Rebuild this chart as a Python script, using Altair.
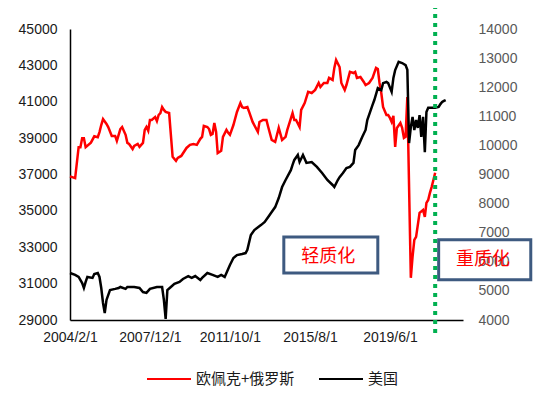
import altair as alt
import pandas as pd

series_names = ["欧佩克+俄罗斯", "美国"]
series_colors = ["#FF0000", "#000000"]

# OPEC+Russia crude output (left axis), monthly points
red_dates = [
    "2004-02", "2004-05", "2004-07", "2004-08", "2004-09", "2004-10", "2004-11",
    "2005-02", "2005-04", "2005-06", "2005-07", "2005-08", "2005-09", "2005-11", "2005-12",
    "2006-02", "2006-04", "2006-05", "2006-07", "2006-08", "2006-10", "2006-11", "2006-12",
    "2007-02", "2007-03", "2007-05", "2007-06", "2007-07", "2007-08", "2007-09", "2007-10", "2007-11", "2007-12",
    "2008-01", "2008-03", "2008-04", "2008-05", "2008-06", "2008-07", "2008-08", "2008-09", "2008-11",
    "2009-01", "2009-03", "2009-04", "2009-06", "2009-09", "2009-11",
    "2010-01", "2010-03", "2010-05", "2010-06", "2010-07", "2010-09", "2010-10", "2010-11", "2010-12",
    "2011-01", "2011-02", "2011-03", "2011-05", "2011-06", "2011-08", "2011-09", "2011-10", "2011-12",
    "2012-02", "2012-04", "2012-05", "2012-06", "2012-08", "2012-09", "2012-11",
    "2013-02", "2013-03", "2013-05", "2013-07", "2013-08", "2013-10", "2013-12",
    "2014-02", "2014-04", "2014-06", "2014-07", "2014-10", "2014-11", "2014-12",
    "2015-02", "2015-03", "2015-05", "2015-07", "2015-09", "2015-11",
    "2016-01", "2016-02", "2016-04", "2016-06", "2016-07", "2016-09", "2016-10", "2016-11",
    "2017-01", "2017-02", "2017-04", "2017-05", "2017-07", "2017-09", "2017-10", "2017-11",
    "2018-01", "2018-03", "2018-04", "2018-06", "2018-08", "2018-10", "2018-11", "2018-12",
    "2019-01", "2019-02", "2019-04", "2019-05", "2019-06", "2019-07", "2019-08", "2019-09", "2019-10", "2019-12",
    "2020-01", "2020-02", "2020-03", "2020-04", "2020-06", "2020-07", "2020-08", "2020-09", "2020-11",
    "2021-01", "2021-02", "2021-03", "2021-04", "2021-05", "2021-06", "2021-07", "2021-08",
]
red_values = [
    36900, 36800, 38500, 38500, 39000, 39000, 38500,
    38750, 39100, 39050, 39330, 39720, 40050, 39780, 39610,
    39120, 39120, 38850, 39500, 39610, 39180, 38740, 38680,
    38400, 38570, 38680, 38520, 38630, 38740, 39450, 39610, 39400, 40000,
    40000, 40160, 39940, 40270, 40380, 40710, 40550, 40440, 40380,
    37970, 37750, 37910, 38020, 38460, 38630,
    38680, 38630, 38960, 39070, 39670, 39610, 39500, 39180, 39230,
    39830, 39340, 38180, 38300, 39070, 39450, 39290, 39180, 39720,
    40440, 40930, 40710, 40660, 40710, 40440, 39890,
    39340, 39890, 40000, 40000, 39610, 38900, 38790,
    39560, 38900, 39070, 39450, 40380, 40000, 40000,
    39610, 40550, 40930, 41540, 41480, 41650,
    42030, 41810, 42030, 42030, 42310, 42200, 42860, 43300,
    42910, 42030, 41650, 41920, 42640, 42580, 42640, 42310,
    42360, 42090, 41920, 42030, 42310, 42860, 42800, 42030,
    41480, 40710, 40270, 40270, 40110, 39890, 40220, 38520, 39560, 39830,
    39560, 39010, 39070, 41260, 31320, 32470, 33410, 33570, 34890,
    35050, 34670, 35440, 35600, 35990, 36320, 36700, 37100,
]

# US crude output (right axis)
us_dates = [
    "2004-02", "2004-05", "2004-07", "2004-09", "2004-10", "2004-11", "2004-12",
    "2005-03", "2005-04", "2005-06", "2005-07", "2005-08", "2005-09", "2005-10", "2005-11",
    "2006-01", "2006-04", "2006-06", "2006-07", "2006-10", "2006-11",
    "2007-02", "2007-03", "2007-06", "2007-08", "2007-10", "2007-12",
    "2008-04", "2008-07", "2008-08", "2008-09", "2008-10", "2008-12",
    "2009-02", "2009-05", "2009-07", "2009-10", "2009-12",
    "2010-02", "2010-05", "2010-06", "2010-09", "2010-12",
    "2011-03", "2011-05", "2011-07", "2011-08", "2011-10", "2011-12",
    "2012-02", "2012-05", "2012-07", "2012-08", "2012-10", "2012-12",
    "2013-04", "2013-06", "2013-08", "2013-10", "2013-12",
    "2014-02", "2014-04", "2014-06", "2014-09", "2014-10", "2014-11",
    "2015-01", "2015-02", "2015-04", "2015-06", "2015-09", "2015-12",
    "2016-03", "2016-06", "2016-09", "2016-10", "2016-12",
    "2017-01", "2017-03", "2017-05", "2017-07", "2017-09", "2017-10", "2017-12",
    "2018-02", "2018-04", "2018-05", "2018-08", "2018-09", "2018-11",
    "2019-01", "2019-02", "2019-04", "2019-05", "2019-07", "2019-08", "2019-09", "2019-11",
    "2020-01", "2020-03", "2020-04", "2020-05", "2020-06", "2020-07", "2020-08", "2020-09", "2020-10", "2020-11", "2020-12",
    "2021-01", "2021-02", "2021-03", "2021-04", "2021-05", "2021-06", "2021-08", "2021-10", "2021-11", "2021-12",
    "2022-01", "2022-02",
]
us_values = [
    5616, 5550, 5480, 5270, 5100, 5310, 5480,
    5445, 5580, 5616, 5480, 5100, 4585, 4240, 4690,
    5030, 5070, 5100, 5135, 5070, 5135,
    5135, 5135, 5100, 4960, 4930, 5070,
    5135, 5135, 4690, 4035, 5030, 5135,
    5240, 5310, 5410, 5510, 5445,
    5510, 5375, 5445, 5616, 5550,
    5480, 5550, 5480, 5616, 5890, 6130,
    6230, 6270, 6300, 6410, 6920, 7090,
    7270, 7370, 7540, 7710, 7880,
    8190, 8570, 8810, 9150, 9330, 9500,
    9670, 9430, 9670, 9400, 9430, 9260,
    9050, 8810, 8640, 8570, 8810,
    8910, 9050, 9220, 9260, 9400, 9840, 10010,
    10290, 10530, 10870, 11390, 11560, 11970,
    11900, 12140, 12180, 12140, 11840, 12320, 12590, 12870,
    12830, 12760, 12600, 10080, 10630, 10980, 10530, 10870, 10600, 11040, 10290,
    10980, 9770, 11150, 11290, 11290, 11290, 11290, 11320, 11420, 11490,
    11530, 11560,
]

x_start = "2004-02-01"
x_end = "2022-12-01"
x_ticks = ["2004-02-01", "2007-12-01", "2011-10-01", "2015-08-01", "2019-06-01"]
left_ticks = list(range(29000, 45001, 2000))
right_ticks = list(range(4000, 14001, 1000))
divider_date = "2021-08-01"

# annotation boxes (anchored in date / left-axis units)
box_labels = ["轻质化", "重质化"]
box_x = ["2014-05-01", "2021-10-01"]
box_x2 = ["2018-11-01", "2026-03-01"]
box_y = [33570, 33410]
box_y2 = [31590, 31210]
text_x = ["2016-06-15", "2023-11-15"]
text_y = [32470, 32310]


def dt(s):
    t = pd.Timestamp(s)
    return alt.DateTime(year=t.year, month=t.month, date=t.day)


red_df = pd.DataFrame({"date": pd.to_datetime(red_dates, format="%Y-%m"),
                       "value": red_values, "series": series_names[0]})
us_df = pd.DataFrame({"date": pd.to_datetime(us_dates, format="%Y-%m"),
                      "value": us_values, "series": series_names[1]})
df = pd.concat([red_df, us_df], ignore_index=True)

box_df = pd.DataFrame({
    "label": box_labels,
    "x": pd.to_datetime(box_x), "x2": pd.to_datetime(box_x2),
    "y": box_y, "y2": box_y2,
    "tx": pd.to_datetime(text_x), "ty": text_y,
})
div_df = pd.DataFrame({"date": pd.to_datetime([divider_date])})

LAT = "Liberation Sans"
CJK = "Noto Sans CJK SC"

x_scale = alt.Scale(domain=[dt(x_start), dt(x_end)], nice=False)
x_enc = alt.X(
    "date:T", title=None, scale=x_scale,
    axis=alt.Axis(values=[dt(s) for s in x_ticks], format="%Y/%-m/%-d",
                  labelFlush=False, labelOverlap=False, ticks=False, grid=False,
                  domainColor="#000000", domainWidth=1.5, labelPadding=10,
                  labelFontSize=14, labelFont=LAT, labelColor="#1a1a1a"),
)
left_scale = alt.Scale(domain=[29000, 45000], nice=False, zero=False)
right_scale = alt.Scale(domain=[4000, 14000], nice=False, zero=False)

legend = alt.Legend(orient="none", legendX=76, legendY=327, direction="horizontal",
                    title=None, symbolType="stroke", symbolSize=1936,
                    symbolStrokeWidth=2, labelFontSize=15, labelFont=CJK,
                    labelColor="#1a1a1a", columnPadding=20, labelOffset=4, padding=0)
color_enc = alt.Color("series:N", scale=alt.Scale(domain=series_names, range=series_colors),
                      legend=legend)

red = alt.Chart(df).transform_filter(
    alt.datum.series == series_names[0]
).mark_line(strokeWidth=2.5).encode(
    x=x_enc,
    y=alt.Y("value:Q", title=None, scale=left_scale,
            axis=alt.Axis(values=left_ticks, format="d", ticks=False, grid=False,
                          domainColor="#000000", domainWidth=1.5, labelPadding=13,
                          labelFontSize=14, labelFont=LAT, labelColor="#1a1a1a")),
    color=color_enc,
)

black = alt.Chart(df).transform_filter(
    alt.datum.series == series_names[1]
).mark_line(strokeWidth=2.5).encode(
    x=x_enc,
    y=alt.Y("value:Q", title=None, scale=right_scale,
            axis=alt.Axis(orient="right", values=right_ticks, format="d", ticks=False,
                          grid=False, domain=False, labelPadding=15,
                          labelFontSize=14, labelFont=LAT, labelColor="#595959")),
    color=color_enc,
)

boxes = alt.Chart(box_df).mark_rect(filled=False, stroke="#3E5A80", strokeWidth=3).encode(
    x=alt.X("x:T", scale=x_scale),
    x2="x2:T",
    y=alt.Y("y:Q", scale=left_scale, axis=None),
    y2="y2:Q",
)

texts = alt.Chart(box_df).mark_text(color="#FF0000", fontSize=18, font=CJK).encode(
    x=alt.X("tx:T", scale=x_scale),
    y=alt.Y("ty:Q", scale=left_scale, axis=None),
    text="label:N",
)

divider = alt.Chart(div_df).mark_rule(color="#00B050", strokeWidth=4, strokeDash=[4, 5]).encode(
    x=alt.X("date:T", scale=x_scale),
    y=alt.value(-24),
    y2=alt.value(308),
)

chart = alt.layer(red, black, boxes, texts, divider).resolve_scale(
    y="independent"
).properties(
    width=393, height=291,
    autosize=alt.AutoSizeParams(type="none"),
    padding={"left": 62, "top": 21, "right": 79, "bottom": 70},
).configure_view(stroke=None)

chart.save("out.html", embed_options={"renderer": "svg", "actions": False})
